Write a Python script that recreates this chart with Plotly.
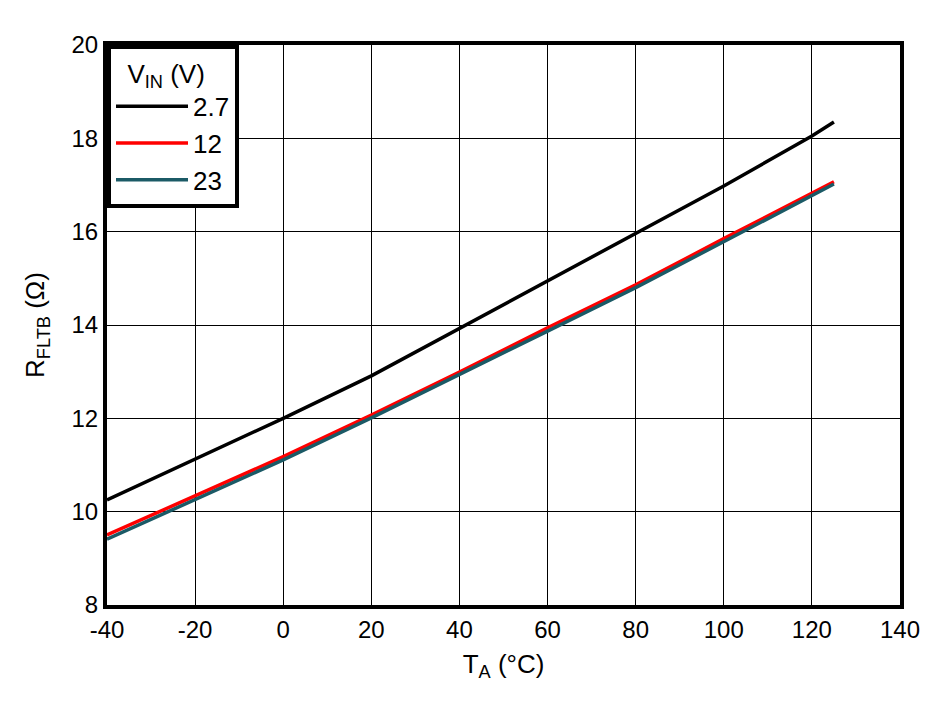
import plotly.graph_objects as go

temps = [-40, -20, 0, 20, 40, 60, 80, 100, 120, 125]
r_27 = [10.25, 11.12, 12.0, 12.91, 13.93, 14.93, 15.96, 16.98, 18.05, 18.35]
r_12 = [9.50, 10.35, 11.18, 12.07, 12.99, 13.94, 14.86, 15.85, 16.82, 17.07]
r_23 = [9.41, 10.27, 11.11, 12.01, 12.93, 13.87, 14.80, 15.79, 16.77, 17.02]
names = ["2.7", "12", "23"]
colors = ["#000000", "#FF0000", "#1B5A66"]
x_ticks = [-40, -20, 0, 20, 40, 60, 80, 100, 120, 140]
x_tick_labels = ["-40", "-20", "0", "20", "40", "60", "80", "100", "120", "140"]
y_ticks = [8, 10, 12, 14, 16, 18, 20]

fig = go.Figure()
for name, ys, c in zip(names, [r_27, r_12, r_23], colors):
    fig.add_trace(go.Scatter(x=temps, y=ys, mode="lines", name=name,
                             line=dict(color=c, width=3.5)))

font = dict(family="Liberation Sans, Arial, sans-serif", size=24, color="black")
fig.update_layout(
    width=948, height=701,
    margin=dict(l=107, r=48, t=45, b=96),
    paper_bgcolor="white", plot_bgcolor="white",
    font=font,
    showlegend=True,
    legend=dict(x=0, y=1, xanchor="left", yanchor="top",
                bordercolor="black", borderwidth=4, bgcolor="white",
                title=dict(text="  V<sub>IN</sub> (V)   ", font=dict(size=26), side="top"),
                font=dict(size=26), itemwidth=72, tracegroupgap=0),
)
fig.update_xaxes(range=[-40, 140], tickvals=x_ticks, ticktext=x_tick_labels,
                 showgrid=True, gridcolor="black", gridwidth=1,
                 showline=True, linecolor="black", linewidth=4, mirror=True,
                 ticks="", zeroline=False, tickfont=dict(size=24),
                 title=dict(text="T<sub>A</sub> (°C)", font=dict(size=26), standoff=14))
fig.update_yaxes(range=[8, 20], tickvals=y_ticks,
                 showgrid=True, gridcolor="black", gridwidth=1,
                 showline=True, linecolor="black", linewidth=4, mirror=True,
                 ticks="", zeroline=False, tickfont=dict(size=24),
                 title=dict(text="R<sub>FLTB</sub> (Ω)", font=dict(size=26), standoff=20))
fig.write_html("out.html")
